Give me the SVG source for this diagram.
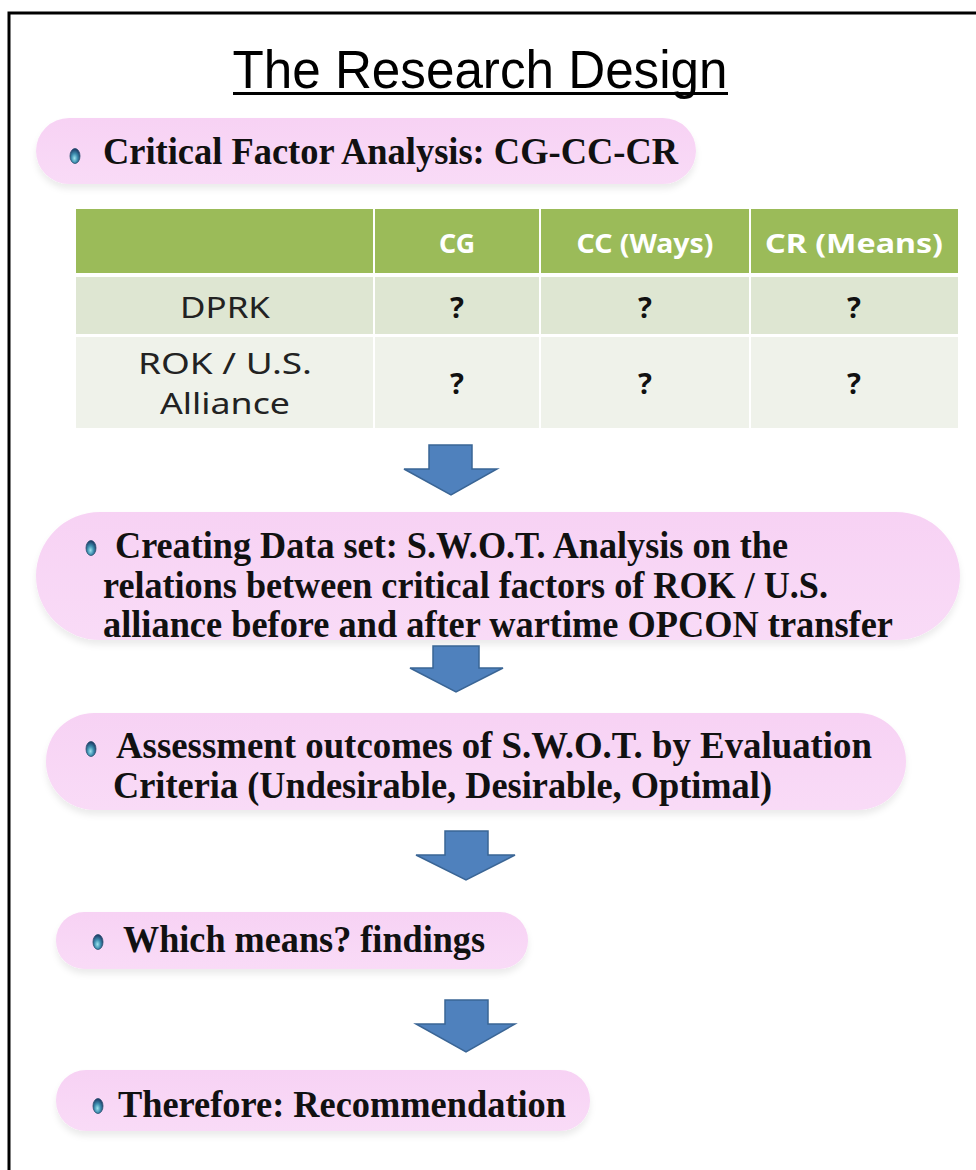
<svg xmlns="http://www.w3.org/2000/svg" width="976" height="1170" viewBox="0 0 976 1170">
<defs>
<style>
.pill{fill:url(#pillGrad);filter:url(#shadow)}
.txt{font-family:"Liberation Serif","Times New Roman",serif;font-weight:bold;font-size:38px;fill:#111}
.th{font-family:"Noto Sans","Open Sans",sans-serif;font-weight:bold;font-size:27px;fill:#fff;text-anchor:middle}
.td{font-family:"Noto Sans","Open Sans",sans-serif;font-size:29px;fill:#222;text-anchor:middle}
.q{font-family:"Noto Sans","Open Sans",sans-serif;font-weight:bold;font-size:29px;fill:#111;text-anchor:middle}
.arrow{fill:#4F81BD;stroke:#3A6595;stroke-width:1.5;stroke-linejoin:miter}
.bullet{fill:url(#bulletGrad);stroke:#2A4F6E;stroke-width:0.8}
</style>
<linearGradient id="pillGrad" x1="0" y1="0" x2="0" y2="1">
<stop offset="0" stop-color="#F7D2F4"/>
<stop offset="1" stop-color="#F9DBF7"/>
</linearGradient>
<radialGradient id="bulletGrad" cx="0.45" cy="0.65" r="0.6">
<stop offset="0" stop-color="#9EE3EE"/>
<stop offset="0.5" stop-color="#3E8FB0"/>
<stop offset="1" stop-color="#1E3F6A"/>
</radialGradient>
<filter id="shadow" x="-5%" y="-10%" width="110%" height="130%">
<feDropShadow dx="0" dy="5" stdDeviation="3" flood-color="#000" flood-opacity="0.08"/>
</filter>
</defs>
<rect width="976" height="1170" fill="#fff"/>
<path d="M9,1172 V13 H978" fill="none" stroke="#000" stroke-width="3"/>

<g id="title">
<text x="480" y="88" font-family="Liberation Sans, Arial, sans-serif" font-size="54" text-anchor="middle" fill="#000" textLength="495" lengthAdjust="spacingAndGlyphs">The Research Design</text>
<rect x="233" y="92" width="495" height="3" fill="#000"/>
</g>

<g id="node-cfa">
<rect class="pill" x="36" y="118" width="660" height="66" rx="33"/>
<ellipse class="bullet" cx="75" cy="156" rx="5" ry="7.5"/>
<text class="txt" x="103" y="164" textLength="575" lengthAdjust="spacingAndGlyphs">Critical Factor Analysis: CG-CC-CR</text>
</g>

<g id="table">
<rect x="76" y="209" width="882" height="64" fill="#9BBB59"/>
<rect x="76" y="277" width="882" height="57" fill="#DEE6D2"/>
<rect x="76" y="337" width="882" height="91" fill="#EFF2EA"/>
<g stroke="#fff" stroke-width="2">
<line x1="374" y1="209" x2="374" y2="428"/>
<line x1="540" y1="209" x2="540" y2="428"/>
<line x1="750" y1="209" x2="750" y2="428"/>
</g>
<text class="th" x="457" y="253" textLength="36" lengthAdjust="spacingAndGlyphs">CG</text>
<text class="th" x="645" y="253" textLength="137" lengthAdjust="spacingAndGlyphs">CC (Ways)</text>
<text class="th" x="854" y="253" textLength="178" lengthAdjust="spacingAndGlyphs">CR (Means)</text>
<text class="td" x="225" y="318" textLength="90" lengthAdjust="spacingAndGlyphs">DPRK</text>
<text class="q" x="457" y="318">?</text>
<text class="q" x="645" y="318">?</text>
<text class="q" x="854" y="318">?</text>
<text class="td" x="225" y="374" textLength="174" lengthAdjust="spacingAndGlyphs">ROK / U.S.</text>
<text class="td" x="225" y="414" textLength="130" lengthAdjust="spacingAndGlyphs">Alliance</text>
<text class="q" x="457" y="394">?</text>
<text class="q" x="645" y="394">?</text>
<text class="q" x="854" y="394">?</text>
</g>

<g id="node-swot">
<rect class="pill" x="36" y="512" width="924" height="128" rx="64"/>
<ellipse class="bullet" cx="91" cy="548" rx="5" ry="7.5"/>
<text class="txt" x="115" y="558" textLength="673" lengthAdjust="spacingAndGlyphs">Creating Data set: S.W.O.T. Analysis on the</text>
<text class="txt" x="103" y="598" textLength="725" lengthAdjust="spacingAndGlyphs">relations between critical factors of ROK / U.S.</text>
<text class="txt" x="103" y="637" textLength="790" lengthAdjust="spacingAndGlyphs">alliance before and after wartime OPCON transfer</text>
</g>

<g id="node-assess">
<rect class="pill" x="46" y="713" width="860" height="97" rx="48"/>
<ellipse class="bullet" cx="91" cy="749" rx="5" ry="7.5"/>
<text class="txt" x="116" y="758" textLength="756" lengthAdjust="spacingAndGlyphs">Assessment outcomes of S.W.O.T. by Evaluation</text>
<text class="txt" x="113" y="798" textLength="659" lengthAdjust="spacingAndGlyphs">Criteria (Undesirable, Desirable, Optimal)</text>
</g>

<g id="node-which">
<rect class="pill" x="56" y="912" width="472" height="57" rx="28"/>
<ellipse class="bullet" cx="98" cy="942" rx="5" ry="7.5"/>
<text class="txt" x="123" y="952" textLength="362" lengthAdjust="spacingAndGlyphs">Which means? findings</text>
</g>

<g id="node-therefore">
<rect class="pill" x="56" y="1070" width="534" height="61" rx="30"/>
<ellipse class="bullet" cx="98" cy="1106" rx="5" ry="7.5"/>
<text class="txt" x="118" y="1117" textLength="448" lengthAdjust="spacingAndGlyphs">Therefore: Recommendation</text>
</g>

<g id="connectors">
<path class="arrow" d="M429,445 H472 V469 H497 L451,495 L404,469 H429 Z"/>
<path class="arrow" d="M433,646 H479 V668 H503 L456,692 L410,668 H433 Z"/>
<path class="arrow" d="M445,831 H488 V855 H515 L466,880 L416,855 H445 Z"/>
<path class="arrow" d="M445,1000 H488 V1024 H515 L466,1052 L416,1024 H445 Z"/>
</g>
</svg>
